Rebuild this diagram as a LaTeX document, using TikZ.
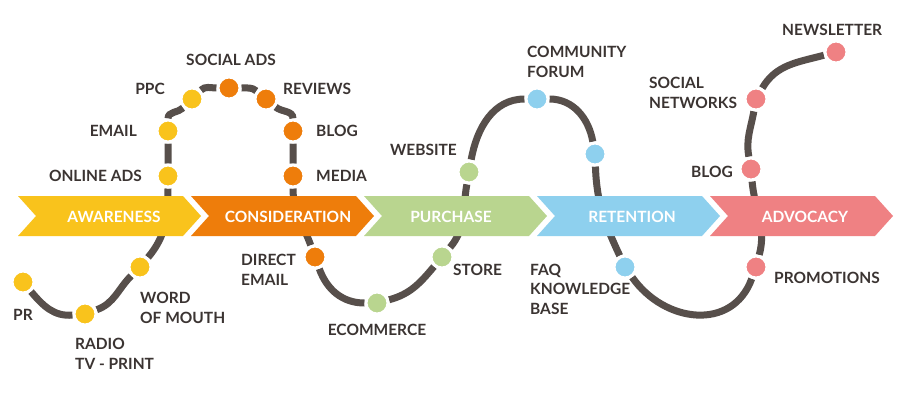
\documentclass[tikz,border=0pt]{standalone}
\usepackage{fontspec}
\setmainfont{Lato}
\pgfdeclarelayer{bg}
\pgfdeclarelayer{mid}
\pgfsetlayers{bg,mid,main}
\definecolor{cyel}{HTML}{F9C31C}
\definecolor{corg}{HTML}{EE7D0B}
\definecolor{cgrn}{HTML}{B9D58F}
\definecolor{cblu}{HTML}{8ED0EE}
\definecolor{cred}{HTML}{EF8183}
\definecolor{cpath}{HTML}{574F4B}
\definecolor{ctxt}{HTML}{3B3432}
\tikzset{
  dot/.style={circle, minimum size=22pt, inner sep=0pt, draw=white, line width=3pt, fill=#1},
  lbl/.style={font=\fontsize{15.5}{19.3}\selectfont\bfseries, text=ctxt, inner sep=0pt, align=left},
  stage/.style={font=\fontsize{15.5}{19}\selectfont\bfseries, text=white, inner sep=0pt, anchor=base},
  road/.style={draw=cpath, line width=7pt},
}
\begin{document}
\begin{tikzpicture}[x=1pt,y=1pt]
\useasboundingbox (0,0) rectangle (900,-392);
% dots
\node[dot=cyel] (pr) at (23,-282) {};
\node[dot=cyel] (radio) at (85,-314) {};
\node[dot=cyel] (wom) at (140,-267) {};
\node[dot=cyel] (onl) at (168,-176) {};
\node[dot=cyel] (email) at (168,-131) {};
\node[dot=cyel] (ppc) at (192,-99) {};
\node[dot=corg] (sads) at (229,-88) {};
\node[dot=corg] (rev) at (266,-99) {};
\node[dot=corg] (blogA) at (293,-131) {};
\node[dot=corg] (media) at (293,-176) {};
\node[dot=corg] (demail) at (315,-257) {};
\node[dot=cgrn] (ecom) at (377,-303) {};
\node[dot=cgrn] (store) at (442,-257) {};
\node[dot=cgrn] (web) at (469,-172) {};
\node[dot=cblu] (comm) at (537,-99) {};
\node[dot=cblu] (ret) at (595,-154) {};
\node[dot=cblu] (faq) at (625,-267) {};
\node[dot=cred] (promo) at (756,-267) {};
\node[dot=cred] (blogB) at (751,-169) {};
\node[dot=cred] (socn) at (756,-99) {};
\node[dot=cred] (news) at (836,-52) {};
% road
\begin{pgfonlayer}{bg}
\fill[white] (0,0) rectangle (900,-392);
\draw[road] (pr) to[out=-50,in=185] (radio) to[out=20,in=225] (wom)
  to[out=50,in=-90] (onl) -- (email) to[out=90,in=-135] (ppc)
  to[out=45,in=180] (sads) to[out=0,in=140] (rev) to[out=-40,in=90] (blogA)
  -- (media) to[out=-90,in=110] (demail) to[out=-70,in=180] (ecom)
  to[out=15,in=-130] (store) to[out=50,in=-100] (web) to[out=80,in=180] (comm)
  to[out=0,in=100] (ret) to[out=-88,in=115] (faq)
  to[out=-55,in=-110,looseness=1.2] (promo) to[out=75,in=-85] (blogB)
  to[out=100,in=-100] (socn) to[out=60,in=195] (news);
\end{pgfonlayer}
% chevrons
\begin{pgfonlayer}{mid}
\fill[cyel] (18,-196) -- (183,-196) -- (201,-216) -- (183,-236) -- (18,-236) -- (36,-216) -- cycle;
\fill[corg] (191,-196) -- (356,-196) -- (374,-216) -- (356,-236) -- (191,-236) -- (209,-216) -- cycle;
\fill[cgrn] (364,-196) -- (529,-196) -- (547,-216) -- (529,-236) -- (364,-236) -- (382,-216) -- cycle;
\fill[cblu] (537,-196) -- (702,-196) -- (720,-216) -- (702,-236) -- (537,-236) -- (555,-216) -- cycle;
\fill[cred] (710,-196) -- (875,-196) -- (893,-216) -- (875,-236) -- (710,-236) -- (728,-216) -- cycle;
\end{pgfonlayer}
\node[stage] (s1) at (114,-222) {AWARENESS};
\node[stage] (s2) at (288,-222) {CONSIDERATION};
\node[stage] (s3) at (451,-222) {PURCHASE};
\node[stage] (s4) at (632,-222) {RETENTION};
\node[stage] (s5) at (805,-222) {ADVOCACY};
% labels (base anchor = baseline of last line)
\node[lbl, anchor=base west] (lpr) at (13,-320) {PR};
\node[lbl, anchor=base west] (lradio) at (75,-369) {RADIO\\TV - PRINT};
\node[lbl, anchor=base west] (lwom) at (140,-323) {WORD\\OF MOUTH};
\node[lbl, anchor=base east] (lonl) at (142,-181.5) {ONLINE ADS};
\node[lbl, anchor=base east] (lemail) at (137,-136.5) {EMAIL};
\node[lbl, anchor=base east] (lppc) at (165,-94.5) {PPC};
\node[lbl, anchor=base] (lsads) at (231,-65.5) {SOCIAL ADS};
\node[lbl, anchor=base west] (lrev) at (283,-94.5) {REVIEWS};
\node[lbl, anchor=base west] (lblogA) at (316,-136.5) {BLOG};
\node[lbl, anchor=base west] (lmedia) at (316,-181.5) {MEDIA};
\node[lbl, anchor=base west] (ldemail) at (241,-285) {DIRECT\\EMAIL};
\node[lbl, anchor=base] (lecom) at (377,-335) {ECOMMERCE};
\node[lbl, anchor=base west] (lstore) at (453,-275) {STORE};
\node[lbl, anchor=base east] (lweb) at (457,-155) {WEBSITE};
\node[lbl, anchor=base west] (lcomm) at (527,-77) {COMMUNITY\\FORUM};
\node[lbl, anchor=base west] (lfaq) at (530,-314) {FAQ\\KNOWLEDGE\\BASE};
\node[lbl, anchor=base west] (lpromo) at (774,-283) {PROMOTIONS};
\node[lbl, anchor=base west] (lsocn) at (649,-108) {SOCIAL\\NETWORKS};
\node[lbl, anchor=base east] (lblogB) at (733,-177) {BLOG};
\node[lbl, anchor=base west] (lnews) at (782,-35) {NEWSLETTER};
\end{tikzpicture}
\end{document}
